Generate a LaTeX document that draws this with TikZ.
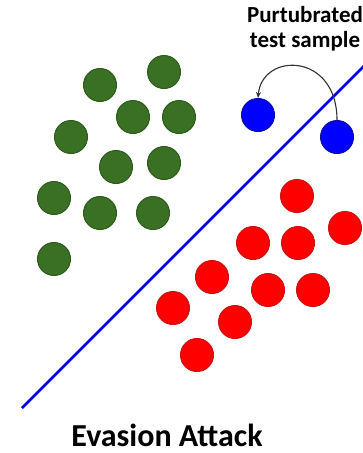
\documentclass[tikz,border=0pt]{standalone}
\usepackage{fontspec}
\setmainfont{Carlito}
\usetikzlibrary{arrows.meta}
\definecolor{leaf}{RGB}{58,112,35}
\definecolor{leafdark}{RGB}{45,90,28}
\definecolor{reddark}{RGB}{200,20,20}
\definecolor{bluedark}{RGB}{10,10,170}
\definecolor{arc}{RGB}{50,50,50}

\begin{document}
\begin{tikzpicture}[x=1pt,y=-1pt]
\tikzset{pt/.style={circle,minimum size=33pt,inner sep=0pt,line width=1pt},
g/.style={pt,fill=leaf,draw=leafdark},
r/.style={pt,fill=red,draw=reddark},
b/.style={pt,fill=blue,draw=bluedark},
lab/.style={anchor=base,inner sep=0pt,font=\fontsize{23}{25}\selectfont\bfseries}}
\useasboundingbox (0,0) rectangle (363,453);

\node[g] (g1) at (164,72) {};
\node[g] (g2) at (100,85) {};
\node[g] (g3) at (133,117) {};
\node[g] (g4) at (179,117) {};
\node[g] (g5) at (71,137) {};
\node[g] (g6) at (116,167) {};
\node[g] (g7) at (164,163) {};
\node[g] (g8) at (54,198) {};
\node[g] (g9) at (100,213) {};
\node[g] (g10) at (153,213) {};
\node[g] (g11) at (54,259) {};

\node[r] (r1) at (297,196) {};
\node[r] (r2) at (345,228) {};
\node[r] (r3) at (253,243) {};
\node[r] (r4) at (298,243) {};
\node[r] (r5) at (212,277) {};
\node[r] (r6) at (268,290) {};
\node[r] (r7) at (313,290) {};
\node[r] (r8) at (173,308) {};
\node[r] (r9) at (235,322) {};
\node[r] (r10) at (197,355) {};

\coordinate (lo) at (22,408);
\coordinate (hi) at (366,64);
\draw[blue,line width=2.6pt] (lo)--(hi);

\node[b] (b1) at (258,115) {};
\node[b] (b2) at (337,137) {};
\draw[line width=1.1pt,arc,-{Stealth[length=6pt,width=5pt]}] (b2.north) .. controls (337,52) and (262,52) .. (b1.north);

\node[lab] (lbl1) at (305,22) {Purtubrated};
\node[lab] (lbl2) at (305,47) {test sample};
\node[lab,font=\fontsize{32}{34}\selectfont\bfseries] (title) at (167,446) {Evasion Attack};
\end{tikzpicture}
\end{document}
